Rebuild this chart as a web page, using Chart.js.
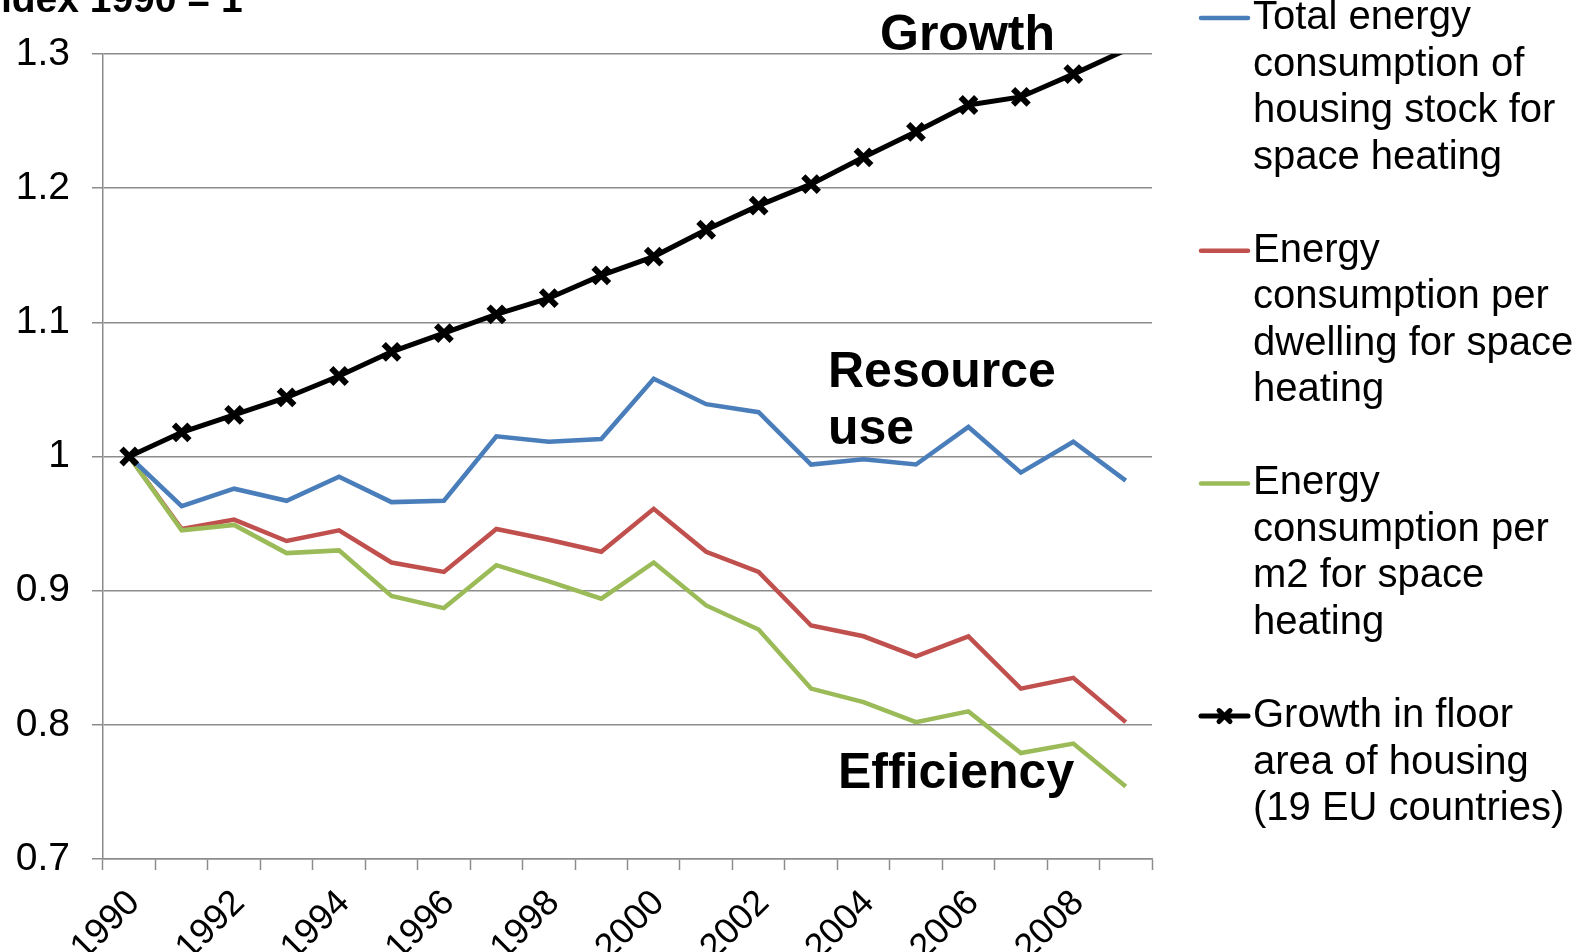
<!DOCTYPE html>
<html>
<head>
<meta charset="utf-8">
<title>Space heating energy in EU housing, index 1990 = 1</title>
<script src="https://cdn.jsdelivr.net/npm/chart.js@4/dist/chart.umd.min.js"></script>
<style>
  html, body { margin: 0; padding: 0; background: #ffffff; overflow: hidden; }
  canvas { display: block; }
</style>
</head>
<body>
<canvas id="chart" width="1576" height="952"></canvas>
<script>
// Years on the category axis
const years = ['1990','1991','1992','1993','1994','1995','1996','1997','1998','1999',
               '2000','2001','2002','2003','2004','2005','2006','2007','2008','2009'];

// Index values (1990 = 1)
const totalConsumption = [1.000, 0.963, 0.976, 0.967, 0.985, 0.966, 0.967, 1.015, 1.011, 1.013,
                          1.058, 1.039, 1.033, 0.994, 0.998, 0.994, 1.022, 0.988, 1.011, 0.982];
const perDwelling      = [1.000, 0.946, 0.953, 0.937, 0.945, 0.921, 0.914, 0.946, 0.938, 0.929,
                          0.961, 0.929, 0.914, 0.874, 0.866, 0.851, 0.866, 0.827, 0.835, 0.802];
const perSquareMetre   = [1.000, 0.945, 0.949, 0.928, 0.930, 0.896, 0.887, 0.919, 0.907, 0.894,
                          0.921, 0.889, 0.871, 0.827, 0.817, 0.802, 0.810, 0.779, 0.786, 0.754];
const floorAreaGrowth  = [1.000, 1.018, 1.031, 1.044, 1.060, 1.078, 1.092, 1.106, 1.118, 1.135,
                          1.149, 1.169, 1.187, 1.203, 1.223, 1.242, 1.262, 1.268, 1.285, 1.303];

// Y axis range and tick step
const yMin = 0.7;
const yMax = 1.3;
const yStep = 0.1;

// Legend labels, one string per printed line
const legendTotal    = ['Total energy', 'consumption of', 'housing stock for', 'space heating'];
const legendDwelling = ['Energy', 'consumption per', 'dwelling for space', 'heating'];
const legendArea     = ['Energy', 'consumption per', 'm2 for space', 'heating'];
const legendGrowth   = ['Growth in floor', 'area of housing', '(19 EU countries)'];

// Axis title and the in-plot captions
const axisTitle = 'Index 1990 = 1';
const captionGrowth = 'Growth';
const captionResource = ['Resource', 'use'];
const captionEfficiency = 'Efficiency';

const FONT = '"Liberation Sans", Arial, Helvetica, sans-serif';
const GRID = '#8c8c8c';

const COLORS = {
  blue: '#4a7ebb',
  red: '#c0504d',
  green: '#9bbb59',
  black: '#000000'
};

// Draws the axis title, captions and the multi-line legend on the right
const overlayPlugin = {
  id: 'overlay',
  afterDraw(chart) {
    const ctx = chart.ctx;
    ctx.save();

    // Axis title (partly outside the canvas on the left)
    ctx.fillStyle = '#000';
    ctx.font = 'bold 39px ' + FONT;
    ctx.textAlign = 'left';
    ctx.textBaseline = 'alphabetic';
    ctx.fillText(axisTitle, -23, 12);

    // Captions inside the plot
    ctx.font = 'bold 50px ' + FONT;
    ctx.fillText(captionGrowth, 880, 50);
    ctx.fillText(captionResource[0], 828, 387);
    ctx.fillText(captionResource[1], 828, 444);
    ctx.fillText(captionEfficiency, 838, 788);

    // Legend
    const items = [
      { lines: legendTotal, color: COLORS.blue, marker: false, width: 4.5 },
      { lines: legendDwelling, color: COLORS.red, marker: false, width: 4.5 },
      { lines: legendArea, color: COLORS.green, marker: false, width: 4.5 },
      { lines: legendGrowth, color: COLORS.black, marker: true, width: 5 }
    ];
    const lineH = 46.5;
    const itemH = 232.7;
    const x0 = 1201, x1 = 1248, tx = 1253;
    let y = 18;
    ctx.font = '40px ' + FONT;
    ctx.textBaseline = 'middle';
    items.forEach(it => {
      ctx.strokeStyle = it.color;
      ctx.lineWidth = it.width;
      ctx.lineCap = 'round';
      ctx.beginPath();
      ctx.moveTo(x0, y);
      ctx.lineTo(x1, y);
      ctx.stroke();
      if (it.marker) {
        const cx = (x0 + x1) / 2, r = 5.5;
        ctx.lineWidth = 5;
        ctx.beginPath();
        ctx.moveTo(cx - r, y - r); ctx.lineTo(cx + r, y + r);
        ctx.moveTo(cx - r, y + r); ctx.lineTo(cx + r, y - r);
        ctx.stroke();
      }
      ctx.fillStyle = '#000';
      it.lines.forEach((t, i) => ctx.fillText(t, tx, y + i * lineH));
      y += itemH;
    });
    ctx.restore();
  }
};

const lineDataset = (label, data, color, order) => ({
  label,
  data,
  borderColor: color,
  backgroundColor: color,
  borderWidth: 4.5,
  pointRadius: 0,
  pointHoverRadius: 0,
  tension: 0,
  order,
  clip: 0
});

// Markers whose value lies above the axis maximum are not drawn
const markerRadius = ctx => (ctx.raw > yMax ? 0 : 11);

new Chart(document.getElementById('chart'), {
  type: 'line',
  data: {
    labels: years,
    datasets: [
      {
        label: legendGrowth.join(' '),
        data: floorAreaGrowth,
        borderColor: COLORS.black,
        backgroundColor: COLORS.black,
        borderWidth: 5,
        pointStyle: 'crossRot',
        pointRadius: markerRadius,
        pointBorderWidth: 6,
        pointBorderColor: COLORS.black,
        pointHoverRadius: markerRadius,
        tension: 0,
        order: 0,
        clip: 0
      },
      lineDataset(legendTotal.join(' '), totalConsumption, COLORS.blue, 1),
      lineDataset(legendDwelling.join(' '), perDwelling, COLORS.red, 3),
      lineDataset(legendArea.join(' '), perSquareMetre, COLORS.green, 2)
    ]
  },
  options: {
    responsive: false,
    animation: false,
    events: [],
    layout: { padding: { left: 0, right: 424, top: 54, bottom: 0 } },
    plugins: {
      legend: { display: false },
      tooltip: { enabled: false },
      title: { display: false }
    },
    scales: {
      x: {
        type: 'category',
        offset: true,
        grid: {
          offset: true,
          drawOnChartArea: false,
          drawTicks: true,
          tickLength: 11,
          tickWidth: 1.5,
          tickColor: GRID
        },
        border: { display: true, color: GRID, width: 1.5 },
        ticks: {
          autoSkip: false,
          minRotation: 45,
          maxRotation: 45,
          padding: 12,
          labelOffset: 5,
          color: '#000',
          font: { family: FONT, size: 36 },
          callback(value, index) {
            return index % 2 === 0 ? this.getLabelForValue(value) : '';
          }
        },
        afterFit(scale) { scale.height = 93; }
      },
      y: {
        min: yMin,
        max: yMax,
        grid: {
          color: GRID,
          lineWidth: 1.5,
          drawTicks: true,
          tickLength: 11,
          tickColor: GRID
        },
        border: { display: true, color: GRID, width: 1.5 },
        ticks: {
          stepSize: yStep,
          padding: 22,
          color: '#000',
          font: { family: FONT, size: 39 },
          callback(value) { return String(+value.toFixed(1)); }
        },
        afterFit(scale) { scale.width = 103; }
      }
    }
  },
  plugins: [overlayPlugin]
});
</script>
</body>
</html>
